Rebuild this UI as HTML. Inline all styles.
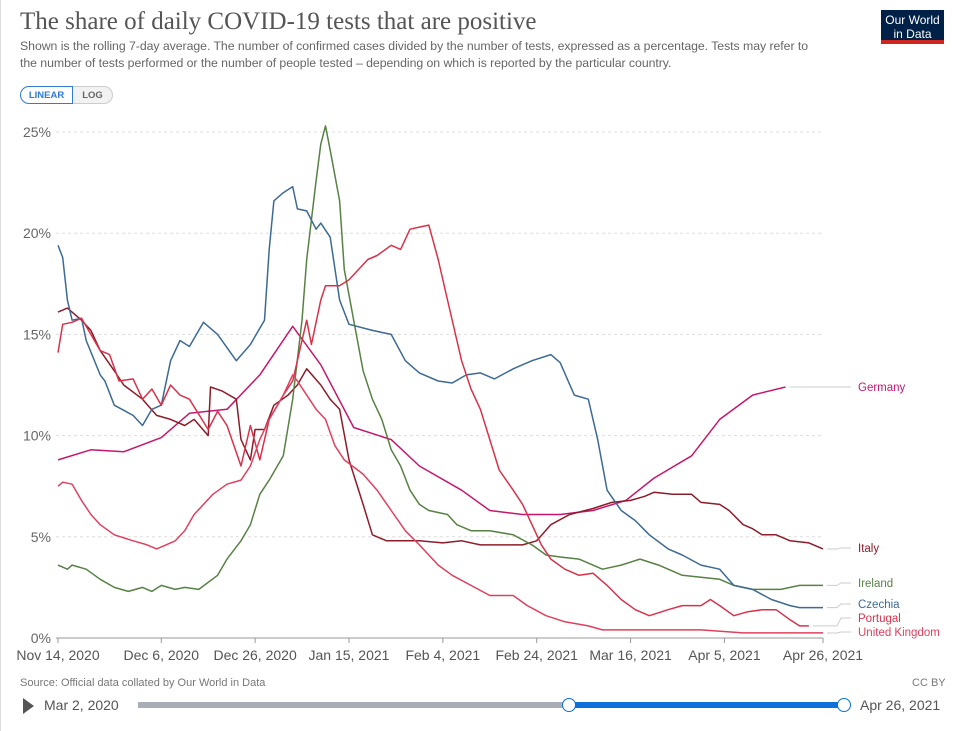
<!DOCTYPE html>
<html><head><meta charset="utf-8"><style>
body{margin:0;background:#fff;font-family:"Liberation Sans",sans-serif;}
#wrap{position:relative;width:957px;height:731px;overflow:hidden;border-left:1px solid #ddd;box-sizing:border-box}
.t{position:absolute;white-space:nowrap}
</style></head><body>
<div id="wrap">
<div class="t" style="left:19px;top:8px;font-family:'Liberation Serif',serif;font-size:25px;color:#555">The share of daily COVID-19 tests that are positive</div>
<div class="t" style="left:19px;top:38px;font-size:12.3px;line-height:17px;color:#666;letter-spacing:-0.05px">Shown is the rolling 7-day average. The number of confirmed cases divided by the number of tests, expressed as a percentage. Tests may refer to<br>the number of tests performed or the number of people tested – depending on which is reported by the particular country.</div>
<div style="position:absolute;left:880px;top:10px;width:63px;height:34px;background:#002147;color:#fff;font-size:12px;line-height:14px;text-align:center;padding-top:3px;box-sizing:border-box;border-bottom:4px solid #ce261e">Our World<br>in Data</div>
<div style="position:absolute;left:19px;top:86px;width:53px;height:18px;border:1px solid #2f7bd6;border-radius:9px 0 0 9px;font-size:9.5px;font-weight:bold;color:#2f7bd6;text-align:center;line-height:18px;box-sizing:border-box">LINEAR</div>
<div style="position:absolute;left:72px;top:86px;width:40px;height:18px;border:1px solid #ccc;border-left:none;border-radius:0 9px 9px 0;background:#f2f2f2;font-size:9.5px;font-weight:bold;color:#666;text-align:center;line-height:18px;box-sizing:border-box">LOG</div>
<svg id="chart" width="957" height="731" style="position:absolute;left:0;top:0"></svg>
<div class="t" style="left:19px;top:677px;font-size:11px;color:#777">Source: Official data collated by Our World in Data</div>
<div class="t" style="left:911px;top:677px;font-size:11px;color:#777">CC BY</div>
<div style="position:absolute;left:22px;top:698px;width:0;height:0;border-top:8px solid transparent;border-bottom:8px solid transparent;border-left:11px solid #555"></div>
<div class="t" style="left:43px;top:697px;font-size:14px;color:#555">Mar 2, 2020</div>
<div style="position:absolute;left:137px;top:702px;width:431px;height:6px;background:#a9adb5"></div>
<div style="position:absolute;left:568px;top:702px;width:275px;height:6px;background:#0f6fdb"></div>
<div style="position:absolute;left:561px;top:698px;width:14px;height:14px;border:1.5px solid #0f6fdb;border-radius:50%;background:#fff;box-sizing:border-box"></div>
<div style="position:absolute;left:836px;top:698px;width:14px;height:14px;border:1.5px solid #0f6fdb;border-radius:50%;background:#fff;box-sizing:border-box"></div>
<div class="t" style="left:859px;top:697px;font-size:14px;color:#555">Apr 26, 2021</div>
</div>
<script>
const yTicks=[0,5,10,15,20,25];
const xTickDays=[0,22,42,62,82,102,122,142,163];
const xTickLabels=["Nov 14, 2020","Dec 6, 2020","Dec 26, 2020","Jan 15, 2021","Feb 4, 2021","Feb 24, 2021","Mar 16, 2021","Apr 5, 2021","Apr 26, 2021"];
const czechiaDays=[0,1,2,3,5,6,9,10,12,16,18,20,22,24,26,28,31,34,38,41,44,45,46,48,50,51,53,55,56,58,60,62,67,71,74,77,81,84,87,90,93,97,101,105,107,110,113,115,117,120,123,126,130,133,137,141,144,148,152,156,158,163];
const czechiaValues=[19.4,18.8,16.7,15.7,15.8,14.7,13,12.7,11.5,11,10.5,11.3,11.5,13.7,14.7,14.4,15.6,15,13.7,14.5,15.7,19.2,21.6,22,22.3,21.2,21.1,20.2,20.5,19.8,16.7,15.5,15.2,15,13.7,13.1,12.7,12.6,13,13.1,12.8,13.3,13.7,14,13.6,12,11.8,9.8,7.3,6.3,5.8,5.1,4.4,4.1,3.6,3.4,2.6,2.4,1.9,1.6,1.5,1.5];
const italyDays=[0,2,5,7,9,12,14,18,21,24,27,29,32,32.5,35,38,39,41,42,44,46,49,51,53,56,58,60,62,65,67,70,73,77,82,86,90,94,99,102,105,109,114,118,122,125,127,131,135,137,141,143,146,148,150,153,156,160,163];
const italyValues=[16.1,16.3,15.7,15.2,14.2,13.2,12.5,11.8,11,10.8,10.5,10.8,10,12.4,12.2,11.8,9.8,8.8,10.3,10.3,11.5,12,12.5,13.3,12.5,11.8,11.3,8.8,6.6,5.1,4.8,4.8,4.8,4.7,4.8,4.6,4.6,4.6,4.8,5.6,6.1,6.4,6.7,6.8,7,7.2,7.1,7.1,6.7,6.6,6.3,5.6,5.4,5.1,5.1,4.8,4.7,4.4];
const irelandDays=[0,2,3,6,9,12,15,18,20,22,25,27,30,34,36,39,41,43,45,48,50,52,53,55,56,57,58,60,61,63,65,67,69,71,73,75,77,79,83,85,88,92,97,101,104,107,111,116,120,124,128,133,137,141,144,148,154,158,163];
const irelandValues=[3.6,3.4,3.6,3.4,2.9,2.5,2.3,2.5,2.3,2.6,2.4,2.5,2.4,3.1,3.9,4.8,5.6,7.1,7.8,9,11.8,15.7,18.7,22.6,24.4,25.3,24.1,21.6,18.2,15.7,13.2,11.8,10.8,9.3,8.5,7.3,6.6,6.3,6.1,5.6,5.3,5.3,5.1,4.6,4.1,4,3.9,3.4,3.6,3.9,3.6,3.1,3,2.9,2.6,2.4,2.4,2.6,2.6];
const portugalDays=[0,1,3,5,7,9,11,13,16,18,20,22,24,26,28,32,34,36,39,41,43,45,48,50,52,53,54,56,57,60,62,66,68,71,73,75,77,79,81,83,85,86,88,90,92,94,97,99,101,103,105,108,111,114,117,120,123,126,130,133,137,139,141,144,147,150,153,156,158,160];
const portugalValues=[14.1,15.5,15.6,15.8,15,14.2,14,12.7,12.8,11.8,12.3,11.5,12.5,12,11.8,10.3,11.2,10.5,8.5,10.5,8.8,10.8,12,12.7,14.7,15.7,14.5,16.7,17.4,17.4,17.7,18.7,18.9,19.4,19.2,20.2,20.3,20.4,18.7,16.7,14.7,13.7,12.3,11.3,9.8,8.3,7.3,6.6,5.6,4.6,3.9,3.4,3.1,3.2,2.6,1.9,1.4,1.1,1.4,1.6,1.6,1.9,1.6,1.1,1.3,1.4,1.4,0.9,0.6,0.6];
const ukDays=[0,1,3,5,7,9,12,16,19,21,23,25,27,29,33,36,39,41,43,45,48,50,51,53,55,57,59,61,65,68,71,74,77,81,84,88,92,97,100,104,108,113,116,124,137,146,154,163];
const ukValues=[7.5,7.7,7.6,6.8,6.1,5.6,5.1,4.8,4.6,4.4,4.6,4.8,5.3,6.1,7.1,7.6,7.8,8.5,9.8,10.8,12,13,12.7,12,11.3,10.8,9.5,8.8,8.1,7.3,6.3,5.3,4.6,3.6,3.1,2.6,2.1,2.1,1.6,1.1,0.8,0.6,0.4,0.4,0.4,0.25,0.25,0.25];
const germanyDays=[0,7,14,22,28,36,43,50,56,63,71,77,86,92,99,107,114,121,127,135,141,148,155];
const germanyValues=[8.8,9.3,9.2,9.9,11.1,11.3,13,15.4,13.5,10.4,9.8,8.5,7.3,6.3,6.1,6.1,6.3,6.8,7.9,9.0,10.8,12,12.4];
const seriesNames=["Germany","Italy","Ireland","Czechia","Portugal","United Kingdom"];
const labelYs=[387,548,583,604,618,632];

const X0=57,X1=822,Y0=638,Y25=132,DMAX=163;
const xs=d=>X0+(X1-X0)*d/DMAX;
const ys=v=>Y0+(Y25-Y0)*v/25;
const svg=document.getElementById('chart');
const NS='http://www.w3.org/2000/svg';
function mk(tag,attrs){const e=document.createElementNS(NS,tag);for(const k in attrs)e.setAttribute(k,attrs[k]);svg.appendChild(e);return e;}
yTicks.forEach(v=>{
  const l=mk('line',{x1:X0-2,x2:X1,y1:ys(v),y2:ys(v),stroke:v===0?'#999':'#ddd','stroke-dasharray':v===0?'':'3,3'});
  
  
  const t=mk('text',{x:50,y:ys(v)+5,'text-anchor':'end','font-size':14,fill:'#666','font-family':'Liberation Sans, sans-serif'});
  t.textContent=v+'%';
  
  
});
xTickDays.forEach((d,i)=>{
  const l=mk('line',{x1:xs(d),x2:xs(d),y1:Y0,y2:Y0+5,stroke:'#999'});
  
  
  const t=mk('text',{x:xs(d),y:Y0+22,'text-anchor':'middle','font-size':14,fill:'#555','font-family':'Liberation Sans, sans-serif'});
  t.textContent=xTickLabels[i];
  
  
});
const series=[[germanyDays,germanyValues,'#c5186d'],[italyDays,italyValues,'#8c1c2a'],[irelandDays,irelandValues,'#578145'],[czechiaDays,czechiaValues,'#3c6a93'],[portugalDays,portugalValues,'#d7324a'],[ukDays,ukValues,'#e0405e']];
series.forEach((s,i)=>{
  const pts=s[0].map((d,j)=>xs(d).toFixed(1)+','+ys(s[1][j]).toFixed(1)).join(' ');
  const p=mk('polyline',{points:pts,fill:'none',stroke:s[2],'stroke-width':1.5,'stroke-linejoin':'round'});
  
  
  const lastD=s[0][s[0].length-1],lastV=s[1][s[1].length-1];
  const c=mk('polyline',{points:`${xs(lastD)+4},${ys(lastV)} 836,${ys(lastV)} 840,${labelYs[i]} 850,${labelYs[i]}`,fill:'none',stroke:'#ccc','stroke-width':1});
  
  
  const t=mk('text',{x:857,y:labelYs[i]+4,'font-size':11.5,fill:s[2],'font-family':'Liberation Sans, sans-serif'});
  t.textContent=seriesNames[i];
  
  
});
</script>
</body></html>
